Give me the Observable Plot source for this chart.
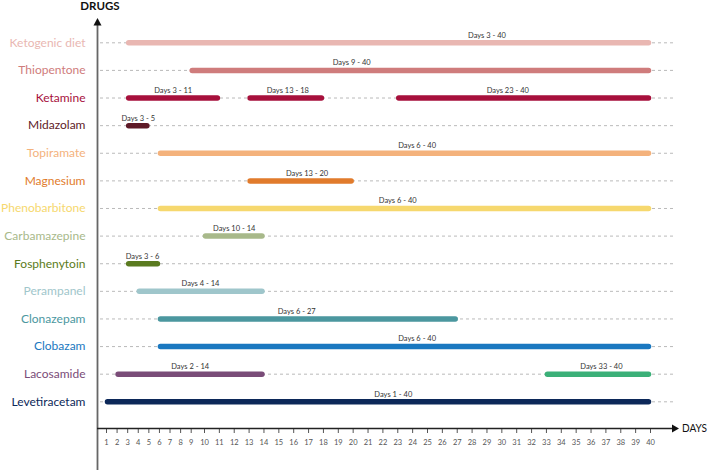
<!DOCTYPE html>
<html>
<head>
<meta charset="utf-8">
<script src="https://cdn.jsdelivr.net/npm/d3@7"></script>
<script src="https://cdn.jsdelivr.net/npm/@observablehq/plot@0.6"></script>
<style>
  html, body { margin: 0; padding: 0; background: #fff; }
  #chart svg { display: block; }
  g[aria-label^="x-axis"] text { font-size: 7.5px; fill: #555; }
  g[aria-label^="x-axis"] path, g[aria-label^="x-axis"] line { stroke: #555; }
</style>
</head>
<body>
<div id="chart"></div>
<script>
// ---- data ----
const drugs = ["Ketogenic diet", "Thiopentone", "Ketamine", "Midazolam", "Topiramate", "Magnesium",
  "Phenobarbitone", "Carbamazepine", "Fosphenytoin", "Perampanel", "Clonazepam", "Clobazam",
  "Lacosamide", "Levetiracetam"];
const drugColors = ["#e9b7b2", "#cf7c7c", "#a7103c", "#5e1a27", "#f4b27c", "#e17b2c",
  "#f6d86e", "#a8b98a", "#5b7b20", "#9fc6cb", "#4b979f", "#1a78c0", "#7a4c78", "#0c2859"];

const segDrug  = ["Ketogenic diet", "Thiopentone", "Ketamine", "Ketamine", "Ketamine", "Midazolam",
  "Topiramate", "Magnesium", "Phenobarbitone", "Carbamazepine", "Fosphenytoin", "Perampanel",
  "Clonazepam", "Clobazam", "Lacosamide", "Lacosamide", "Levetiracetam"];
const segStart = [3, 9, 3, 13, 23, 3, 6, 13, 6, 10, 3, 4, 6, 6, 2, 33, 1];
const segEnd   = [40, 40, 11, 18, 40, 5, 40, 20, 40, 14, 6, 14, 27, 40, 14, 40, 40];
const segLabelAt = [29, 19.9, 7.3, 15.6, 30.4, 4, 24.3, 16.9, 23, 12, 4.4, 9.7, 16.2, 24.3, 8.9, 36.7, 22.7];
const segColor = ["#e9b7b2", "#cf7c7c", "#a7103c", "#a7103c", "#a7103c", "#5e1a27",
  "#f4b27c", "#e17b2c", "#f6d86e", "#a8b98a", "#5b7b20", "#9fc6cb",
  "#4b979f", "#1a78c0", "#7a4c78", "#3bb078", "#0c2859"];

const dayTicks = [1,2,3,4,5,6,7,8,9,10,11,12,13,14,15,16,17,18,19,20,
  21,22,23,24,25,26,27,28,29,30,31,32,33,34,35,36,37,38,39,40];

const segments = segDrug.map((d, i) => ({
  drug: d, start: segStart[i], end: segEnd[i], labelAt: segLabelAt[i], color: segColor[i]
}));

// ---- decorations: axis lines, arrows, axis titles ----
function decor() {
  const g = d3.create("svg:g");
  g.append("line").attr("x1", 97.5).attr("x2", 97.5).attr("y1", 24).attr("y2", 470)
    .attr("stroke", "#666").attr("stroke-width", 1.8);
  g.append("path").attr("d", "M97.5,18L93.5,25.5L101.5,25.5Z").attr("fill", "#111");
  g.append("line").attr("x1", 97).attr("x2", 673).attr("y1", 428.5).attr("y2", 428.5)
    .attr("stroke", "#222").attr("stroke-width", 1.3);
  g.append("path").attr("d", "M679,428.5L672,424.5L672,432.5Z").attr("fill", "#111");
  g.append("text").attr("x", 100).attr("y", 9.5).attr("text-anchor", "middle")
    .attr("font-size", 11.5).attr("font-weight", "bold").attr("fill", "#111").text("DRUGS");
  g.append("text").attr("x", 682).attr("y", 432).attr("text-anchor", "start")
    .attr("font-size", 11).attr("textLength", 25).attr("lengthAdjust", "spacingAndGlyphs")
    .attr("fill", "#111").text("DAYS");
  return g.node();
}

const chart = Plot.plot({
  width: 709,
  height: 470,
  marginLeft: 100,
  marginRight: 33,
  marginTop: 20,
  marginBottom: 42,
  style: { fontFamily: "Lato, 'Open Sans', sans-serif", background: "#fff" },
  x: {
    type: "linear",
    domain: [1, 9, 10, 40],
    range: [106, 190.7, 204, 650],
    ticks: dayTicks,
    tickFormat: d => String(d),
    tickSize: 5,
    tickPadding: 6,
    label: null
  },
  y: { type: "point", domain: drugs, range: [42.3, 401.3], padding: 0, round: false, axis: null },
  color: { type: "identity" },
  marks: [
    Plot.ruleY(drugs, { y: d => d, stroke: "#a8a8a8", strokeWidth: 0.8, strokeDasharray: "3,3" }),
    Plot.ruleY(segments, {
      y: "drug", x1: "start", x2: "end", stroke: "color",
      strokeWidth: 5.5, strokeLinecap: "round", insetLeft: 1.5, insetRight: 1.5
    }),
    Plot.text(segments, {
      x: "labelAt", y: "drug", dy: -7.5, text: d => `Days ${d.start} - ${d.end}`,
      fontSize: 7.5, fill: "#333"
    }),
    Plot.text(drugs, {
      y: d => d, text: d => d, frameAnchor: "left", dx: -15, textAnchor: "end",
      fill: (d, i) => drugColors[i], fontSize: 12
    }),
    decor
  ]
});
document.getElementById("chart").appendChild(chart);
</script>
</body>
</html>
